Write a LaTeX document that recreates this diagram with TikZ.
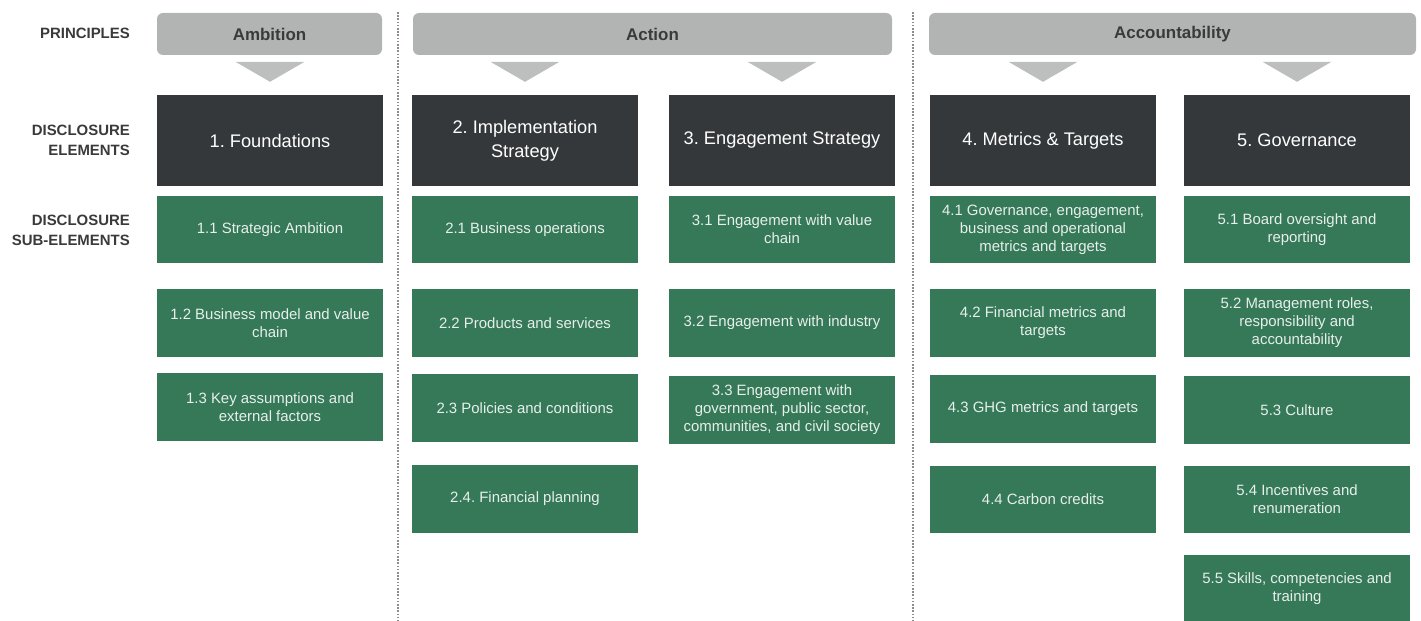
\documentclass[tikz,border=0pt]{standalone}
\usepackage{fontspec}
\setmainfont{Liberation Sans}
\usetikzlibrary{calc}
\definecolor{bargray}{HTML}{B2B4B4}
\definecolor{trigray}{HTML}{BDBFBF}
\definecolor{elemdark}{HTML}{35383B}
\definecolor{subgreen}{HTML}{357959}
\definecolor{subtext}{HTML}{E8EFEA}
\definecolor{labeltext}{HTML}{3A3A3A}
\definecolor{dotgray}{HTML}{8C8C8C}
\frenchspacing

\begin{document}
\begin{tikzpicture}[x=1bp,y=-1bp]
\useasboundingbox (0,0) rectangle (1421,621);
\tikzset{PrincipleStyle/.style={fill=bargray,rounded corners=6bp,minimum height=42bp,
    inner sep=0pt,text=labeltext,font=\bfseries\fontsize{17}{20}\selectfont},
  ElemStyle/.style={fill=elemdark,minimum width=226bp,minimum height=91bp,inner sep=0pt,
    align=center,text=white,font=\fontsize{18.3}{24}\selectfont},
  SubStyle/.style={fill=subgreen,minimum width=226bp,minimum height=67.5bp,inner sep=0pt,
    align=center,text=subtext,font=\fontsize{15}{18}\selectfont},
  RowStyle/.style={anchor=east,inner sep=0pt,align=right,text=labeltext,font=\bfseries\fontsize{15}{20}\selectfont},
  TriStyle/.style={fill=trigray},
  DivStyle/.style={dotgray,line width=1.6bp,dash pattern=on 1.6bp off 1.6bp}}
% row titles
\node[RowStyle] (R1) at (130,33) {PRINCIPLES};
\node[RowStyle] (R2) at (130,140) {DISCLOSURE\\ELEMENTS};
\node[RowStyle] (R3) at (130,230) {DISCLOSURE\\SUB-ELEMENTS};
% dividers
\draw[DivStyle] (398,12) -- (398,621);
\draw[DivStyle] (913,12) -- (913,621);
% principles
\node[PrincipleStyle,minimum width=225bp] (P1) at (269.5,34) {Ambition};
\node[PrincipleStyle,minimum width=479bp] (P2) at (652.5,34) {Action};
\node[PrincipleStyle,minimum width=487bp] (P3) at (1172.5,34) {Accountability};
% elements
\node[ElemStyle] (E1) at (270,140.5) {1. Foundations};
\node[ElemStyle] (E2) at (525,140.5) {2. Implementation\\Strategy};
\node[ElemStyle] (E3) at (782,140.5) {3. Engagement Strategy};
\node[ElemStyle] (E4) at (1043,140.5) {4. Metrics \& Targets};
\node[ElemStyle] (E5) at (1297,140.5) {5. Governance};
\foreach \e in {E1,E2,E3,E4,E5}
  \fill[TriStyle] ($(\e.north)+(-34.5,-33)$) -- ($(\e.north)+(34.5,-33)$)
    -- ($(\e.north)+(0,-13)$) -- cycle;
% sub-elements
\node[SubStyle] (S11) at (270,229.5) {1.1 Strategic Ambition};
\node[SubStyle] (S12) at (270,323) {1.2 Business model and value\\chain};
\node[SubStyle] (S13) at (270,407) {1.3 Key assumptions and\\external factors};
\node[SubStyle] (S21) at (525,229.5) {2.1 Business operations};
\node[SubStyle] (S22) at (525,323) {2.2 Products and services};
\node[SubStyle] (S23) at (525,408) {2.3 Policies and conditions};
\node[SubStyle] (S24) at (525,499) {2.4. Financial planning};
\node[SubStyle] (S31) at (782,229.5) {3.1 Engagement with value\\chain};
\node[SubStyle] (S32) at (782,323) {3.2 Engagement with industry};
\node[SubStyle] (S33) at (782,410) {3.3 Engagement with\\government, public sector,\\communities, and civil society};
\node[SubStyle] (S41) at (1043,229.5) {4.1 Governance, engagement,\\business and operational\\metrics and targets};
\node[SubStyle] (S42) at (1043,323) {4.2 Financial metrics and\\targets};
\node[SubStyle] (S43) at (1043,409) {4.3 GHG metrics and targets};
\node[SubStyle] (S44) at (1043,499.5) {4.4 Carbon credits};
\node[SubStyle] (S51) at (1297,229.5) {5.1 Board oversight and\\reporting};
\node[SubStyle] (S52) at (1297,323) {5.2 Management roles,\\responsibility and\\accountability};
\node[SubStyle] (S53) at (1297,410) {5.3 Culture};
\node[SubStyle] (S54) at (1297,499.5) {5.4 Incentives and\\renumeration};
\node[SubStyle] (S55) at (1297,589) {5.5 Skills, competencies and\\training};
\end{tikzpicture}
\end{document}
